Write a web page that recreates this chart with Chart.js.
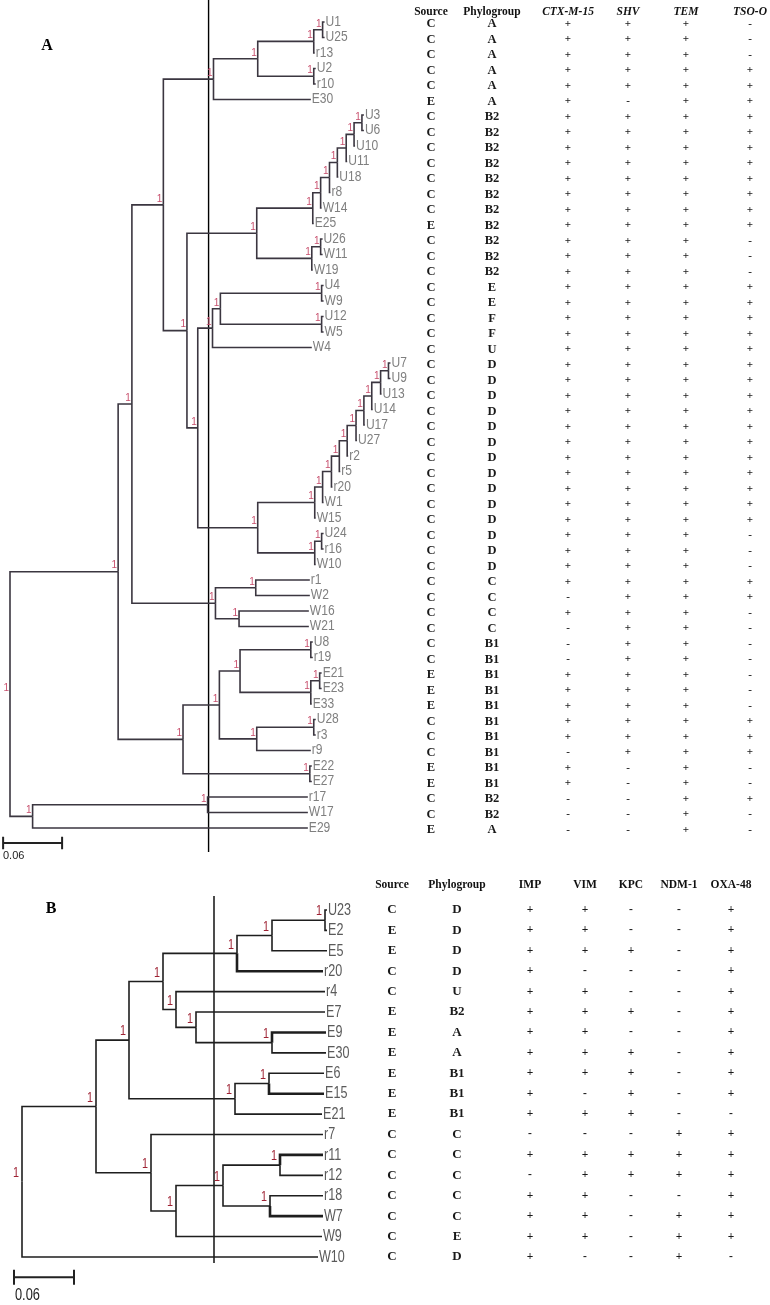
<!DOCTYPE html>
<html>
<head>
<meta charset="utf-8">
<script src="https://cdn.jsdelivr.net/npm/chart.js@4.4.1/dist/chart.umd.min.js"></script>
<style>
  body { margin: 0; background: #fff; }
  canvas { display: block; }
</style>
</head>
<body>
<canvas id="treeA" width="770" height="865"></canvas>
<canvas id="treeB" width="770" height="440"></canvas>
<script>
// ---- panel A: tree as newick clades (branch lengths, bootstrap) ----
const cladeA = "((((U1:0.002,U25:0.002)1:0.009,r13:0.001)1:0.057,(U2:0.002,r10:0.002)1:0.057)1:0.045,E30:0.099)1:0.051";
const ladderB2 = "(((((((U3:0.002,U6:0.002)1:0.008,U10:0.001)1:0.008,U11:0.001)1:0.009,U18:0.001)1:0.008,r8:0.001)1:0.009,W14:0.001)1:0.008,E25:0.001)1:0.057";
const smallB2 = "((U26:0.002,W11:0.002)1:0.009,W19:0.001)1:0.056";
const cladeEF = "(((U4:0.002,W9:0.002)1:0.103,(U12:0.002,W5:0.002)1:0.103)1:0.008,W4:0.101)1:0.015";
const ladderD = "((((((((((U7:0.002,U9:0.002)1:0.008,U13:0.001)1:0.009,U14:0.001)1:0.008,U17:0.001)1:0.008,U27:0.001)1:0.009,r2:0.001)1:0.008,r5:0.001)1:0.008,r20:0.001)1:0.009,W1:0.001)1:0.008,W15:0.001)1:0.058";
const smallD = "((U24:0.002,r16:0.002)1:0.007,W10:0.001)1:0.058";
const cladeC = "((r1:0.055,W2:0.055)1:0.041,(W16:0.071,W21:0.071)1:0.024)1:0.085";
const cladeB1 = "(((U8:0.002,r19:0.002)1:0.072,((E21:0.002,E23:0.002)1:0.009,E33:0.001)1:0.072)1:0.021,((U28:0.002,r3:0.002)1:0.058,r9:0.055)1:0.038)1:0.037";
const cladeE22 = "(E22:0.002,E27:0.002)1:0.129";
const outgroupA = "((r17:0.102,W17:0.102)1:0.178,E29:0.280)1:0.023";

const cladeB2 = "(" + ladderB2 + "," + smallB2 + ")1:0.071";
const cladeDall = "(" + ladderD + "," + smallD + ")1:0.061";
const cladeEFD = "(" + cladeEF + "," + cladeDall + ")1:0.011";
const cladeB2EFD = "(" + cladeB2 + "," + cladeEFD + ")1:0.024";
const upper = "(((" + cladeA + "," + cladeB2EFD + ")1:0.032," + cladeC + ")1:0.014";
const lower = "(" + cladeB1 + "," + cladeE22 + ")1:0.066";
const newickA = "((" + upper + "," + lower + ")1:0.110," + outgroupA + ")1;";

// table A (one entry per leaf, top to bottom)
const sourceA = "CCCCCE CCCCCCCE CCC CCCCC CCCCCCCCCCC CCC CCCC CCEEE CCC EE CCE".replace(/ /g, "").split("");
const phyloA = [
  "A", "A", "A", "A", "A", "A",
  "B2", "B2", "B2", "B2", "B2", "B2", "B2", "B2", "B2", "B2", "B2",
  "E", "E", "F", "F", "U",
  "D", "D", "D", "D", "D", "D", "D", "D", "D", "D", "D", "D", "D", "D",
  "C", "C", "C", "C",
  "B1", "B1", "B1", "B1", "B1", "B1", "B1", "B1", "B1", "B1",
  "B2", "B2", "A"
];
const ctxA = "++++++ ++++++++ +++ +++++ +++++++++++ +++ +-+- --+++ ++- ++ ---".replace(/ /g, "").split("");
const shvA = "+++++- ++++++++ +++ +++++ +++++++++++ +++ ++++ +++++ +++ -- ---".replace(/ /g, "").split("");
const temA = "++++++ ++++++++ +++ +++++ +++++++++++ +++ ++++ +++++ +++ ++ +++".replace(/ /g, "").split("");
const tsoA = "---+++ ++++++++ --- +++++ +++++++++++ --- ++-- ----- +++ -- +--".replace(/ /g, "").split("");

// ---- panel B ----
const newickB =
  "(((((((U23:0.002,E2:0.002)1:0.053,E5:0.055)1:0.035,r20:0.086)1:0.074," +
  "(r4:0.149,(E7:0.129,(E9:0.054,E30:0.054)1:0.076)1:0.020)1:0.013)1:0.034," +
  "((E6:0.055,E15:0.055)1:0.034,E21:0.087)1:0.106)1:0.033," +
  "(r7:0.172,(((r11:0.043,r12:0.043)1:0.057,(r18:0.053,W7:0.053)1:0.047)1:0.047,W9:0.146)1:0.025)1:0.055)1:0.074," +
  "W10:0.296)1;";

const sourceB = ["C", "E", "E", "C", "C", "E", "E", "E", "E", "E", "E", "C", "C", "C", "C", "C", "C", "C"];
const phyloB = ["D", "D", "D", "D", "U", "B2", "A", "A", "B1", "B1", "B1", "C", "C", "C", "C", "C", "E", "D"];
const impB = ["+", "+", "+", "+", "+", "+", "+", "+", "+", "+", "+", "-", "+", "-", "+", "+", "+", "+"];
const vimB = ["+", "+", "+", "-", "+", "+", "+", "+", "+", "-", "+", "-", "+", "+", "+", "+", "+", "-"];
const kpcB = ["-", "-", "+", "-", "-", "+", "-", "+", "+", "+", "+", "-", "+", "+", "-", "-", "-", "-"];
const ndmB = ["-", "-", "-", "-", "-", "-", "-", "-", "-", "-", "-", "+", "+", "+", "-", "+", "+", "+"];
const oxaB = ["+", "+", "+", "+", "+", "+", "+", "+", "+", "+", "-", "+", "+", "+", "+", "+", "+", "-"];

const scaleBarLen = 0.06;
const cutA = 0.202;
const cutB = 0.192;

// ---- helpers ----
function parseNewick(s) {
  let i = 0;
  function node() {
    const n = { children: [], name: "", len: 0 };
    if (s[i] === "(") {
      i++;
      n.children.push(node());
      while (s[i] === ",") { i++; n.children.push(node()); }
      i++;
    }
    while (i < s.length && !",():;".includes(s[i])) n.name += s[i++];
    if (s[i] === ":") {
      i++;
      let num = "";
      while (i < s.length && !",();".includes(s[i])) num += s[i++];
      n.len = parseFloat(num);
    }
    return n;
  }
  return node();
}

function layoutTree(root) {
  const leaves = [], nodes = [];
  let row = 0;
  (function walk(n, x) {
    n.x = x + n.len;
    if (!n.children.length) {
      n.y = row++;
      leaves.push(n);
    } else {
      n.children.forEach(c => walk(c, n.x));
      n.y = (n.children[0].y + n.children[n.children.length - 1].y) / 2;
      nodes.push(n);
    }
  })(root, 0);
  return { root, leaves, nodes };
}

function edgeSets(root, color, width, thick) {
  const sets = [];
  (function walk(n) {
    n.children.forEach(c => {
      sets.push({
        data: [{ x: n.x, y: n.y }, { x: n.x, y: c.y }, { x: c.x, y: c.y }],
        borderColor: color,
        borderWidth: thick.includes(c.name) ? 2.6 : width,
      });
      walk(c);
    });
  })(root);
  return sets;
}

function text(ctx, str, x, y, font, color, align, sx) {
  ctx.save();
  ctx.font = font;
  ctx.fillStyle = color;
  ctx.textAlign = align;
  ctx.textBaseline = "middle";
  ctx.translate(x, y);
  ctx.scale(sx || 1, 1);
  ctx.fillText(str, 0, 0);
  ctx.restore();
}

function panelPlugin(cfg) {
  return {
    id: "panel" + cfg.letter,
    afterDatasetsDraw(chart) {
      const ctx = chart.ctx;
      const X = v => chart.scales.x.getPixelForValue(v);
      const Y = v => chart.scales.y.getPixelForValue(v);

      cfg.tree.leaves.forEach(l =>
        text(ctx, l.name, X(l.x) + 1, Y(l.y), cfg.leafFont, cfg.leafColor, "left", cfg.leafSx));
      cfg.tree.nodes.forEach(n =>
        text(ctx, n.name, X(n.x) + cfg.bsDx, Y(n.y) + cfg.bsDy, cfg.bsFont, cfg.bsColor, "right", cfg.bsSx));

      cfg.columns.forEach(col => {
        text(ctx, col.title, col.x, cfg.headerY, col.italic ? "italic bold 11.5px 'Liberation Serif'" : "bold 11.5px 'Liberation Serif'", "#111", "center");
        col.values.forEach((v, i) => {
          const sign = v === "+" || v === "-";
          text(ctx, v, col.x, Y(i) + cfg.rowDy, sign ? cfg.signFont : cfg.cellFont, "#1a1a1a", "center");
        });
      });

      text(ctx, cfg.letter, cfg.letterPos[0], cfg.letterPos[1], "bold 16px 'Liberation Serif'", "#000", "center");
      text(ctx, String(scaleBarLen), cfg.barLabelPos[0], cfg.barLabelPos[1], cfg.barFont, "#222", "left", cfg.barSx);
    },
  };
}

function scaleBar(x0, row, tick) {
  const x1 = x0 + scaleBarLen;
  return {
    data: [
      { x: x0, y: row - tick }, { x: x0, y: row + tick }, { x: x0, y: row },
      { x: x1, y: row }, { x: x1, y: row - tick }, { x: x1, y: row + tick },
    ],
    borderColor: "#222",
    borderWidth: 2,
  };
}

function makeChart(id, datasets, xr, yr, plugin) {
  return new Chart(document.getElementById(id), {
    type: "scatter",
    data: { datasets: datasets.map(d => Object.assign({ showLine: true, pointRadius: 0, fill: false, tension: 0, borderJoinStyle: "miter" }, d)) },
    options: {
      responsive: false,
      animation: false,
      events: [],
      layout: { padding: 0 },
      plugins: { legend: { display: false }, tooltip: { enabled: false } },
      scales: {
        x: { type: "linear", display: false, min: xr[0], max: xr[1] },
        y: { type: "linear", display: false, reverse: true, min: yr[0], max: yr[1] },
      },
    },
    plugins: [plugin],
  });
}

// ---- panel A chart ----
const treeA = layoutTree(parseNewick(newickA));
const setsA = edgeSets(treeA.root, "#3b3640", 1.6, []);
setsA.push({ data: [{ x: cutA, y: -1.5 }, { x: cutA, y: 53.55 }], borderColor: "#000", borderWidth: 1.4 });
setsA.push(scaleBar(-0.007, 52.97, 0.4));

makeChart("treeA", setsA, [-0.01017, 0.7731], [-1.4194, 54.387], panelPlugin({
  letter: "A",
  tree: treeA,
  leafFont: "14px 'Liberation Sans'", leafColor: "#7f7f7f", leafSx: 0.86,
  bsFont: "10px 'Liberation Sans'", bsColor: "#c8506e", bsSx: 1, bsDx: -1, bsDy: -6,
  headerY: 12, rowDy: 2,
  cellFont: "bold 12.5px 'Liberation Serif'", signFont: "bold 11px 'Liberation Serif'",
  columns: [
    { title: "Source", x: 431, values: sourceA },
    { title: "Phylogroup", x: 492, values: phyloA },
    { title: "CTX-M-15", x: 568, values: ctxA, italic: true },
    { title: "SHV", x: 628, values: shvA, italic: true },
    { title: "TEM", x: 686, values: temA, italic: true },
    { title: "TSO-O", x: 750, values: tsoA, italic: true },
  ],
  letterPos: [47, 46],
  barLabelPos: [3, 856], barFont: "11px 'Liberation Sans'", barSx: 1,
}));

// ---- panel B chart ----
const treeB = layoutTree(parseNewick(newickB));
const setsB = edgeSets(treeB.root, "#1e1e1e", 1.6, ["r20", "E9", "E15", "r11", "W7"]);
setsB.push({ data: [{ x: cutB, y: -0.686 }, { x: cutB, y: 17.3 }], borderColor: "#000", borderWidth: 1.4 });
setsB.push(scaleBar(-0.008, 17.99, 0.37));

makeChart("treeB", setsB, [-0.022, 0.748], [-2.2048, 19.353], panelPlugin({
  letter: "B",
  tree: treeB,
  leafFont: "17px 'Liberation Sans'", leafColor: "#5a5a5a", leafSx: 0.74,
  bsFont: "15px 'Liberation Sans'", bsColor: "#9e2233", bsSx: 0.72, bsDx: -3, bsDy: -9,
  headerY: 20, rowDy: 0,
  cellFont: "bold 13px 'Liberation Serif'", signFont: "bold 11.5px 'Liberation Serif'",
  columns: [
    { title: "Source", x: 392, values: sourceB },
    { title: "Phylogroup", x: 457, values: phyloB },
    { title: "IMP", x: 530, values: impB },
    { title: "VIM", x: 585, values: vimB },
    { title: "KPC", x: 631, values: kpcB },
    { title: "NDM-1", x: 679, values: ndmB },
    { title: "OXA-48", x: 731, values: oxaB },
  ],
  letterPos: [51, 44],
  barLabelPos: [15, 431], barFont: "16px 'Liberation Sans'", barSx: 0.8,
}));
</script>
</body>
</html>
